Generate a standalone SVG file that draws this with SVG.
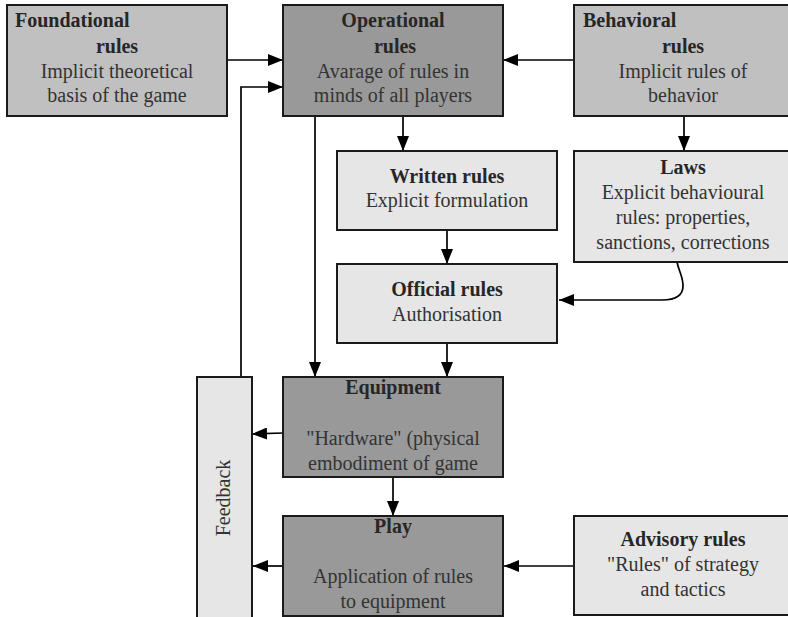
<svg xmlns="http://www.w3.org/2000/svg" width="788" height="617" viewBox="0 0 788 617">
<defs>
<marker id="ah" markerUnits="userSpaceOnUse" markerWidth="15" markerHeight="12" refX="15" refY="6" orient="auto">
<path d="M0,0 L15,6 L0,12 z" fill="#000"/>
</marker>
<style>
.box{stroke:#1a1a1a;stroke-width:2}
.mid{fill:#c0c0c0}
.dark{fill:#999999}
.light{fill:#e6e6e6}
text{font-family:"Liberation Serif","Times New Roman",serif;font-size:20px;fill:#333333;text-anchor:middle}
.t{font-weight:bold;fill:#262626}
.l{text-anchor:start}
.c{fill:none;stroke:#000;stroke-width:1.7;marker-end:url(#ah)}
</style>
</defs>
<rect width="788" height="617" fill="#ffffff"/>
<g id="connectors">
<path class="c" d="M227,60 L283,60"/>
<path class="c" d="M241,377 L241,87 L283,87"/>
<path class="c" d="M574,60 L503,60"/>
<path class="c" d="M403,116 L403,151"/>
<path class="c" d="M684,116 L684,151"/>
<path class="c" d="M315,116 L315,377"/>
<path class="c" d="M447,230 L447,264"/>
<path class="c" d="M677,262 C679,272 683,276 683,286 C683,296 676,300 662,300 L559,300"/>
<path class="c" d="M447,343 L447,377"/>
<path class="c" d="M283,433 L252,434"/>
<path class="c" d="M393,477 L393,516"/>
<path class="c" d="M283,566 L253,566"/>
<path class="c" d="M574,566 L504,566"/>
</g>
<g id="foundational">
<rect class="box mid" x="7" y="5" width="220" height="111"/>
<text class="t l" x="15" y="27">Foundational</text>
<text class="t" x="117" y="53">rules</text>
<text x="117" y="78">Implicit theoretical</text>
<text x="117" y="102">basis of the game</text>
</g>
<g id="operational">
<rect class="box dark" x="283" y="5" width="220" height="111"/>
<text class="t" x="393" y="27">Operational</text>
<text class="t" x="395" y="53">rules</text>
<text x="393" y="78">Avarage of rules in</text>
<text x="393" y="102">minds of all players</text>
</g>
<g id="behavioral">
<rect class="box mid" x="574" y="5" width="218" height="111"/>
<text class="t l" x="583" y="27">Behavioral</text>
<text class="t" x="683" y="53">rules</text>
<text x="683" y="78">Implicit rules of</text>
<text x="683" y="102">behavior</text>
</g>
<g id="written">
<rect class="box light" x="337" y="151" width="220" height="79"/>
<text class="t" x="447" y="183">Written rules</text>
<text x="447" y="207">Explicit formulation</text>
</g>
<g id="laws">
<rect class="box light" x="574" y="151" width="218" height="111"/>
<text class="t" x="683" y="174">Laws</text>
<text x="683" y="199">Explicit behavioural</text>
<text x="683" y="224">rules: properties,</text>
<text x="683" y="249">sanctions, corrections</text>
</g>
<g id="official">
<rect class="box light" x="337" y="264" width="220" height="79"/>
<text class="t" x="447" y="296">Official rules</text>
<text x="447" y="321">Authorisation</text>
</g>
<g id="equipment">
<rect class="box dark" x="283" y="377" width="220" height="100"/>
<text class="t" x="393" y="394">Equipment</text>
<text x="393" y="445">"Hardware" (physical</text>
<text x="393" y="470">embodiment of game</text>
</g>
<g id="play">
<rect class="box dark" x="283" y="516" width="220" height="100"/>
<text class="t" x="393" y="533">Play</text>
<text x="393" y="583">Application of rules</text>
<text x="393" y="608">to equipment</text>
</g>
<g id="advisory">
<rect class="box light" x="574" y="516" width="218" height="99"/>
<text class="t" x="683" y="546">Advisory rules</text>
<text x="683" y="571">"Rules" of strategy</text>
<text x="683" y="596">and tactics</text>
</g>
<g id="feedback">
<rect class="box light" x="197" y="377" width="55" height="245"/>
<text transform="translate(230,498) rotate(-90)" x="0" y="0">Feedback</text>
</g>
</svg>
